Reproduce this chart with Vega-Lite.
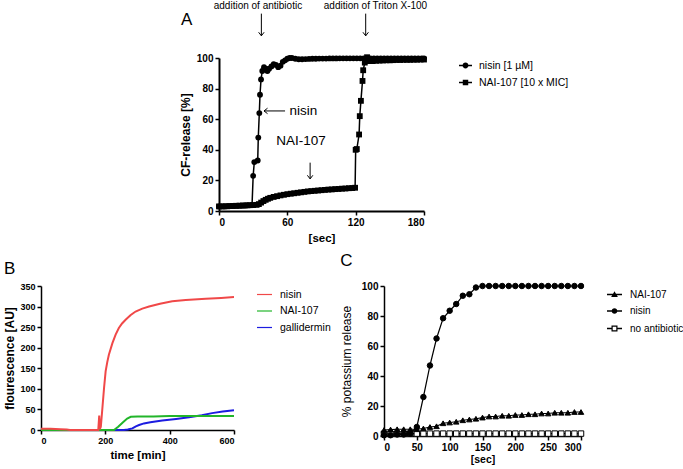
{
  "$schema": "https://vega.github.io/schema/vega-lite/v6.json",
  "padding": {"left": 3, "top": 0, "right": 0, "bottom": 0},
  "config": {
    "font": "Liberation Sans",
    "view": {"stroke": null},
    "axis": {"domainColor": "black", "domainWidth": 1.5, "tickColor": "black", "tickWidth": 1.5, "tickSize": 4, "labelColor": "black", "labelFont": "Liberation Sans", "labelFontWeight": "bold", "labelFontSize": 10, "titleFont": "Liberation Sans", "titleFontWeight": "bold", "titleFontSize": 12, "titleColor": "black", "grid": false, "labelPadding": 2},
    "legend": {"labelFont": "Liberation Sans", "labelColor": "black", "labelFontSize": 10.5, "padding": 0},
    "title": {"font": "Liberation Sans", "fontWeight": "normal", "fontSize": 17, "color": "black", "anchor": "start"}
  },
  "resolve": {"scale": {"shape": "independent", "color": "independent", "fill": "independent", "x": "independent", "y": "independent"}, "legend": {"shape": "independent", "color": "independent"}},
  "datasets": {
    "A": [
      {"s":"nisin [1 µM]","t":0,"v":3},{"s":"nisin [1 µM]","t":3,"v":3},{"s":"nisin [1 µM]","t":6,"v":3},{"s":"nisin [1 µM]","t":9,"v":3.1},{"s":"nisin [1 µM]","t":12,"v":3.2},{"s":"nisin [1 µM]","t":15,"v":3.3},{"s":"nisin [1 µM]","t":18,"v":3.4},{"s":"nisin [1 µM]","t":21,"v":3.5},{"s":"nisin [1 µM]","t":24,"v":3.6},{"s":"nisin [1 µM]","t":27,"v":3.7},{"s":"nisin [1 µM]","t":29,"v":3.8},
      {"s":"nisin [1 µM]","t":30,"v":23},{"s":"nisin [1 µM]","t":31,"v":32},{"s":"nisin [1 µM]","t":34,"v":33},{"s":"nisin [1 µM]","t":34.5,"v":48},{"s":"nisin [1 µM]","t":35.4,"v":64},{"s":"nisin [1 µM]","t":36,"v":76},{"s":"nisin [1 µM]","t":36.9,"v":86},{"s":"nisin [1 µM]","t":38,"v":91.5},{"s":"nisin [1 µM]","t":39.5,"v":94},{"s":"nisin [1 µM]","t":41,"v":93},{"s":"nisin [1 µM]","t":42.5,"v":91.5},{"s":"nisin [1 µM]","t":44,"v":93},{"s":"nisin [1 µM]","t":46,"v":94.5},{"s":"nisin [1 µM]","t":48,"v":96},{"s":"nisin [1 µM]","t":50,"v":95.5},{"s":"nisin [1 µM]","t":52,"v":94},{"s":"nisin [1 µM]","t":54,"v":95},{"s":"nisin [1 µM]","t":56,"v":97.5},{"s":"nisin [1 µM]","t":58,"v":98.5},{"s":"nisin [1 µM]","t":60,"v":99.5},{"s":"nisin [1 µM]","t":62,"v":100},{"s":"nisin [1 µM]","t":64,"v":100},{"s":"nisin [1 µM]","t":67,"v":99.5},{"s":"nisin [1 µM]","t":70,"v":99.2},{"s":"nisin [1 µM]","t":73,"v":99.2},{"s":"nisin [1 µM]","t":76,"v":99.3},{"s":"nisin [1 µM]","t":79,"v":99.4},{"s":"nisin [1 µM]","t":82,"v":99.5},{"s":"nisin [1 µM]","t":85,"v":99.5},{"s":"nisin [1 µM]","t":88,"v":99.6},{"s":"nisin [1 µM]","t":91,"v":99.6},{"s":"nisin [1 µM]","t":94,"v":99.6},{"s":"nisin [1 µM]","t":97,"v":99.7},{"s":"nisin [1 µM]","t":100,"v":99.7},{"s":"nisin [1 µM]","t":103,"v":99.7},{"s":"nisin [1 µM]","t":106,"v":99.8},{"s":"nisin [1 µM]","t":109,"v":99.8},{"s":"nisin [1 µM]","t":112,"v":99.8},{"s":"nisin [1 µM]","t":115,"v":99.8},{"s":"nisin [1 µM]","t":118,"v":99.8},{"s":"nisin [1 µM]","t":121,"v":99.8},{"s":"nisin [1 µM]","t":124,"v":99.8},{"s":"nisin [1 µM]","t":127,"v":99.8},{"s":"nisin [1 µM]","t":130,"v":99.8},{"s":"nisin [1 µM]","t":133,"v":99.8},{"s":"nisin [1 µM]","t":136,"v":99.8},{"s":"nisin [1 µM]","t":139,"v":99.8},{"s":"nisin [1 µM]","t":142,"v":99.8},{"s":"nisin [1 µM]","t":145,"v":99.8},{"s":"nisin [1 µM]","t":148,"v":99.8},{"s":"nisin [1 µM]","t":151,"v":99.8},{"s":"nisin [1 µM]","t":154,"v":99.8},{"s":"nisin [1 µM]","t":157,"v":99.8},{"s":"nisin [1 µM]","t":160,"v":99.8},{"s":"nisin [1 µM]","t":163,"v":99.8},{"s":"nisin [1 µM]","t":166,"v":99.8},{"s":"nisin [1 µM]","t":169,"v":99.8},{"s":"nisin [1 µM]","t":172,"v":99.8},{"s":"nisin [1 µM]","t":175,"v":99.8},{"s":"nisin [1 µM]","t":178,"v":99.8},{"s":"nisin [1 µM]","t":180,"v":99.8},
      {"s":"NAI-107 [10 x MIC]","t":0,"v":3},{"s":"NAI-107 [10 x MIC]","t":3,"v":3},{"s":"NAI-107 [10 x MIC]","t":6,"v":3.1},{"s":"NAI-107 [10 x MIC]","t":9,"v":3.2},{"s":"NAI-107 [10 x MIC]","t":12,"v":3.3},{"s":"NAI-107 [10 x MIC]","t":15,"v":3.4},{"s":"NAI-107 [10 x MIC]","t":18,"v":3.5},{"s":"NAI-107 [10 x MIC]","t":21,"v":3.6},{"s":"NAI-107 [10 x MIC]","t":24,"v":3.7},{"s":"NAI-107 [10 x MIC]","t":27,"v":3.8},{"s":"NAI-107 [10 x MIC]","t":30,"v":3.9},{"s":"NAI-107 [10 x MIC]","t":33,"v":4},{"s":"NAI-107 [10 x MIC]","t":35,"v":4.5},{"s":"NAI-107 [10 x MIC]","t":37,"v":5.5},{"s":"NAI-107 [10 x MIC]","t":39,"v":6.5},{"s":"NAI-107 [10 x MIC]","t":41,"v":7.3},{"s":"NAI-107 [10 x MIC]","t":43,"v":8},{"s":"NAI-107 [10 x MIC]","t":45,"v":8.6},{"s":"NAI-107 [10 x MIC]","t":48,"v":9.2},{"s":"NAI-107 [10 x MIC]","t":51,"v":9.7},{"s":"NAI-107 [10 x MIC]","t":54,"v":10.2},{"s":"NAI-107 [10 x MIC]","t":57,"v":10.6},{"s":"NAI-107 [10 x MIC]","t":60,"v":11},{"s":"NAI-107 [10 x MIC]","t":63,"v":11.3},{"s":"NAI-107 [10 x MIC]","t":66,"v":11.6},{"s":"NAI-107 [10 x MIC]","t":69,"v":11.9},{"s":"NAI-107 [10 x MIC]","t":72,"v":12.2},{"s":"NAI-107 [10 x MIC]","t":75,"v":12.5},{"s":"NAI-107 [10 x MIC]","t":78,"v":12.8},{"s":"NAI-107 [10 x MIC]","t":81,"v":13},{"s":"NAI-107 [10 x MIC]","t":84,"v":13.2},{"s":"NAI-107 [10 x MIC]","t":87,"v":13.4},{"s":"NAI-107 [10 x MIC]","t":90,"v":13.6},{"s":"NAI-107 [10 x MIC]","t":93,"v":13.8},{"s":"NAI-107 [10 x MIC]","t":96,"v":14},{"s":"NAI-107 [10 x MIC]","t":99,"v":14.1},{"s":"NAI-107 [10 x MIC]","t":102,"v":14.3},{"s":"NAI-107 [10 x MIC]","t":105,"v":14.4},{"s":"NAI-107 [10 x MIC]","t":108,"v":14.6},{"s":"NAI-107 [10 x MIC]","t":111,"v":14.7},{"s":"NAI-107 [10 x MIC]","t":114,"v":14.9},{"s":"NAI-107 [10 x MIC]","t":117,"v":15},{"s":"NAI-107 [10 x MIC]","t":119.5,"v":15.2},
      {"s":"NAI-107 [10 x MIC]","t":120,"v":40},{"s":"NAI-107 [10 x MIC]","t":121,"v":40.5},{"s":"NAI-107 [10 x MIC]","t":123,"v":50},{"s":"NAI-107 [10 x MIC]","t":123.6,"v":62},{"s":"NAI-107 [10 x MIC]","t":124.6,"v":72},{"s":"NAI-107 [10 x MIC]","t":126,"v":85},{"s":"NAI-107 [10 x MIC]","t":126.6,"v":92},{"s":"NAI-107 [10 x MIC]","t":128,"v":97},{"s":"NAI-107 [10 x MIC]","t":130,"v":100.5},{"s":"NAI-107 [10 x MIC]","t":132,"v":98},{"s":"NAI-107 [10 x MIC]","t":135,"v":98},{"s":"NAI-107 [10 x MIC]","t":138,"v":98.2},{"s":"NAI-107 [10 x MIC]","t":141,"v":98.3},{"s":"NAI-107 [10 x MIC]","t":144,"v":98.4},{"s":"NAI-107 [10 x MIC]","t":147,"v":98.5},{"s":"NAI-107 [10 x MIC]","t":150,"v":98.5},{"s":"NAI-107 [10 x MIC]","t":153,"v":98.6},{"s":"NAI-107 [10 x MIC]","t":156,"v":98.7},{"s":"NAI-107 [10 x MIC]","t":159,"v":98.7},{"s":"NAI-107 [10 x MIC]","t":162,"v":98.8},{"s":"NAI-107 [10 x MIC]","t":165,"v":98.8},{"s":"NAI-107 [10 x MIC]","t":168,"v":98.8},{"s":"NAI-107 [10 x MIC]","t":171,"v":98.9},{"s":"NAI-107 [10 x MIC]","t":174,"v":98.9},{"s":"NAI-107 [10 x MIC]","t":177,"v":99},{"s":"NAI-107 [10 x MIC]","t":180,"v":99}
    ],
    "Anote_small": [
      {"t": 34.2, "v": 134.3, "label": "addition of antibiotic"},
      {"t": 137.4, "v": 134.3, "label": "addition of Triton X-100"}
    ],
    "Anote_big": [
      {"t": 62, "v": 65.4, "label": "nisin"},
      {"t": 50.3, "v": 45.8, "label": "NAI-107"}
    ],
    "Aletter": [{"t": -33.4, "v": 124.8, "label": "A"}],
    "Aarrows": [
      {"t": 37.2, "v": 129, "t2": 37.2, "v2": 114.5},
      {"t": 128.8, "v": 129, "t2": 128.8, "v2": 114.5},
      {"t": 80, "v": 31.6, "t2": 80, "v2": 21},
      {"t": 58, "v": 65.4, "t2": 39.5, "v2": 65.4}
    ],
    "Aheads_down": [
      {"t": 37.2, "v": 114.5},
      {"t": 128.8, "v": 114.5},
      {"t": 80, "v": 21}
    ],
    "Aheads_left": [
      {"t": 39.5, "v": 65.4}
    ],
    "B": [
      {"s":"gallidermin","t":0,"v":0},{"s":"gallidermin","t":100,"v":0},{"s":"gallidermin","t":200,"v":0},{"s":"gallidermin","t":258,"v":0},{"s":"gallidermin","t":270,"v":1},{"s":"gallidermin","t":284,"v":4},{"s":"gallidermin","t":295,"v":9},{"s":"gallidermin","t":305,"v":12},{"s":"gallidermin","t":320,"v":16},{"s":"gallidermin","t":340,"v":19},{"s":"gallidermin","t":377,"v":23},{"s":"gallidermin","t":420,"v":27},{"s":"gallidermin","t":460,"v":31},{"s":"gallidermin","t":500,"v":36},{"s":"gallidermin","t":532,"v":41},{"s":"gallidermin","t":565,"v":45},{"s":"gallidermin","t":600,"v":48},
      {"s":"NAI-107","t":0,"v":0},{"s":"NAI-107","t":100,"v":0},{"s":"NAI-107","t":200,"v":0},{"s":"NAI-107","t":227,"v":0},{"s":"NAI-107","t":240,"v":8},{"s":"NAI-107","t":255,"v":19},{"s":"NAI-107","t":268,"v":28},{"s":"NAI-107","t":279,"v":32},{"s":"NAI-107","t":300,"v":33},{"s":"NAI-107","t":350,"v":33},{"s":"NAI-107","t":400,"v":34},{"s":"NAI-107","t":450,"v":34},{"s":"NAI-107","t":500,"v":34},{"s":"NAI-107","t":550,"v":34},{"s":"NAI-107","t":600,"v":34},
      {"s":"nisin","t":0,"v":3},{"s":"nisin","t":30,"v":3},{"s":"nisin","t":60,"v":2},{"s":"nisin","t":80,"v":1},{"s":"nisin","t":90,"v":0},{"s":"nisin","t":150,"v":0},{"s":"nisin","t":178,"v":0},{"s":"nisin","t":181,"v":35},{"s":"nisin","t":183,"v":2},{"s":"nisin","t":186,"v":8},{"s":"nisin","t":190,"v":45},{"s":"nisin","t":196,"v":102},{"s":"nisin","t":201,"v":143},{"s":"nisin","t":206,"v":165},{"s":"nisin","t":211,"v":183},{"s":"nisin","t":222,"v":211},{"s":"nisin","t":232,"v":232},{"s":"nisin","t":242,"v":248},{"s":"nisin","t":252,"v":259},{"s":"nisin","t":263,"v":268},{"s":"nisin","t":278,"v":279},{"s":"nisin","t":294,"v":288},{"s":"nisin","t":315,"v":295},{"s":"nisin","t":336,"v":300},{"s":"nisin","t":370,"v":307},{"s":"nisin","t":408,"v":313},{"s":"nisin","t":450,"v":316},{"s":"nisin","t":512,"v":319},{"s":"nisin","t":560,"v":321},{"s":"nisin","t":600,"v":323}
    ],
    "C": [
      {"s":"no antibiotic","t":0,"v":1.5},{"s":"no antibiotic","t":10,"v":1.5},{"s":"no antibiotic","t":20,"v":1.5},{"s":"no antibiotic","t":30,"v":1.5},{"s":"no antibiotic","t":40,"v":1.6},{"s":"no antibiotic","t":50,"v":1.6},{"s":"no antibiotic","t":60,"v":1.6},{"s":"no antibiotic","t":70,"v":1.6},{"s":"no antibiotic","t":80,"v":1.6},{"s":"no antibiotic","t":90,"v":1.6},{"s":"no antibiotic","t":100,"v":1.6},{"s":"no antibiotic","t":110,"v":1.6},{"s":"no antibiotic","t":120,"v":1.6},{"s":"no antibiotic","t":130,"v":1.6},{"s":"no antibiotic","t":140,"v":1.6},{"s":"no antibiotic","t":150,"v":1.6},{"s":"no antibiotic","t":160,"v":1.6},{"s":"no antibiotic","t":170,"v":1.6},{"s":"no antibiotic","t":180,"v":1.6},{"s":"no antibiotic","t":190,"v":1.6},{"s":"no antibiotic","t":200,"v":1.6},{"s":"no antibiotic","t":210,"v":1.6},{"s":"no antibiotic","t":220,"v":1.6},{"s":"no antibiotic","t":230,"v":1.6},{"s":"no antibiotic","t":240,"v":1.6},{"s":"no antibiotic","t":250,"v":1.6},{"s":"no antibiotic","t":260,"v":1.6},{"s":"no antibiotic","t":270,"v":1.6},{"s":"no antibiotic","t":280,"v":1.6},{"s":"no antibiotic","t":290,"v":1.6},{"s":"no antibiotic","t":300,"v":1.6},
      {"s":"NAI-107","t":0,"v":4},{"s":"NAI-107","t":10,"v":4.3},{"s":"NAI-107","t":20,"v":4.5},{"s":"NAI-107","t":30,"v":4.5},{"s":"NAI-107","t":40,"v":4.5},{"s":"NAI-107","t":50,"v":4.5},{"s":"NAI-107","t":60,"v":5},{"s":"NAI-107","t":70,"v":6},{"s":"NAI-107","t":80,"v":6.5},{"s":"NAI-107","t":90,"v":8.5},{"s":"NAI-107","t":100,"v":9},{"s":"NAI-107","t":110,"v":9.5},{"s":"NAI-107","t":120,"v":10.5},{"s":"NAI-107","t":130,"v":11},{"s":"NAI-107","t":140,"v":11.5},{"s":"NAI-107","t":150,"v":12.3},{"s":"NAI-107","t":160,"v":13},{"s":"NAI-107","t":170,"v":13},{"s":"NAI-107","t":180,"v":13.5},{"s":"NAI-107","t":190,"v":13.5},{"s":"NAI-107","t":200,"v":14},{"s":"NAI-107","t":210,"v":14},{"s":"NAI-107","t":220,"v":14.5},{"s":"NAI-107","t":230,"v":14.5},{"s":"NAI-107","t":240,"v":15},{"s":"NAI-107","t":250,"v":15},{"s":"NAI-107","t":260,"v":15.5},{"s":"NAI-107","t":270,"v":15.5},{"s":"NAI-107","t":280,"v":15.5},{"s":"NAI-107","t":290,"v":16},{"s":"NAI-107","t":300,"v":16},
      {"s":"nisin","t":0,"v":0.5},{"s":"nisin","t":10,"v":0.5},{"s":"nisin","t":20,"v":1},{"s":"nisin","t":30,"v":1},{"s":"nisin","t":40,"v":1.5},{"s":"nisin","t":50,"v":6},{"s":"nisin","t":60,"v":26},{"s":"nisin","t":70,"v":47},{"s":"nisin","t":80,"v":65},{"s":"nisin","t":90,"v":78.5},{"s":"nisin","t":100,"v":83.5},{"s":"nisin","t":110,"v":88},{"s":"nisin","t":120,"v":93.5},{"s":"nisin","t":130,"v":94.5},{"s":"nisin","t":140,"v":99},{"s":"nisin","t":150,"v":100},{"s":"nisin","t":160,"v":100},{"s":"nisin","t":170,"v":100},{"s":"nisin","t":180,"v":100},{"s":"nisin","t":190,"v":100},{"s":"nisin","t":200,"v":100},{"s":"nisin","t":210,"v":100},{"s":"nisin","t":220,"v":100},{"s":"nisin","t":230,"v":100},{"s":"nisin","t":240,"v":100},{"s":"nisin","t":250,"v":100},{"s":"nisin","t":260,"v":100},{"s":"nisin","t":270,"v":100},{"s":"nisin","t":280,"v":100},{"s":"nisin","t":290,"v":100},{"s":"nisin","t":300,"v":100}
    ]
  },
  "spacing": 8,
  "vconcat": [
    {
      "spacing": 0,
      "resolve": {"scale": {"shape": "independent", "x": "independent", "y": "independent"}, "legend": {"shape": "independent"}},
      "hconcat": [
        {"width": 138, "height": 10, "data": {"values": []}, "mark": "point"},
        {
          "width": 205, "height": 153,
          "encoding": {
            "x": {"field": "t", "type": "quantitative", "scale": {"domain": [0, 180], "nice": false, "zero": false}, "axis": {"values": [0, 60, 120, 180], "title": "[sec]", "titleFontSize": 11.5, "titlePadding": 5, "domainWidth": 2}},
            "y": {"field": "v", "type": "quantitative", "scale": {"domain": [0, 100], "nice": false, "zero": false}, "axis": {"values": [0, 20, 40, 60, 80, 100], "title": "CF-release [%]", "titlePadding": 4, "domainWidth": 2}}
          },
          "resolve": {"scale": {"shape": "independent"}, "legend": {"shape": "independent"}},
          "layer": [
            {"data": {"name": "A"}, "mark": {"type": "line", "color": "black", "strokeWidth": 1.5}, "encoding": {"detail": {"field": "s"}}},
            {"data": {"name": "A"}, "mark": {"type": "point", "filled": true, "color": "black", "size": 34, "opacity": 1},
             "encoding": {"shape": {"field": "s", "type": "nominal", "scale": {"domain": ["nisin [1 µM]", "NAI-107 [10 x MIC]"], "range": ["circle", "square"]}, "legend": null}}},
            {"data": {"name": "A"}, "mark": {"type": "point", "filled": false, "fill": "black", "stroke": "black", "strokeWidth": 1.5, "opacity": 0},
             "encoding": {"shape": {"field": "s", "type": "nominal", "scale": {"domain": ["nisin [1 µM]", "NAI-107 [10 x MIC]"], "range": ["M-1,-0.11H1V0.11H-1ZM0.45,0A0.45,0.45,0,1,1,-0.45,0A0.45,0.45,0,1,1,0.45,0Z", "M-1,-0.11H1V0.11H-1ZM-0.42,-0.42H0.42V0.42H-0.42Z"]},
               "legend": {"title": null, "orient": "right", "offset": 31, "symbolSize": 169, "symbolOpacity": 1, "symbolFillColor": "black", "symbolStrokeColor": "black", "symbolStrokeWidth": 1.5, "labelOffset": 6, "rowPadding": 3, "labelFontSize": 10.5}}}},
            {"data": {"name": "Aarrows"}, "mark": {"type": "rule", "color": "black", "strokeWidth": 1}, "encoding": {"x2": {"field": "t2"}, "y2": {"field": "v2"}}},
            {"data": {"name": "Aheads_down"}, "mark": {"type": "point", "shape": "M-1,-1.3L0,0L1,-1.3", "filled": false, "stroke": "black", "strokeWidth": 1, "size": 30, "opacity": 1}},
            {"data": {"name": "Aheads_left"}, "mark": {"type": "point", "shape": "M1.3,-1L0,0L1.3,1", "filled": false, "stroke": "black", "strokeWidth": 1, "size": 30, "opacity": 1}},
            {"data": {"name": "Anote_small"}, "mark": {"type": "text", "fontSize": 10, "align": "center", "baseline": "middle", "color": "black"}, "encoding": {"text": {"field": "label"}}},
            {"data": {"name": "Anote_big"}, "mark": {"type": "text", "fontSize": 13.5, "align": "left", "baseline": "middle", "color": "black"}, "encoding": {"text": {"field": "label"}}},
            {"data": {"name": "Aletter"}, "mark": {"type": "text", "fontSize": 17, "align": "left", "baseline": "middle", "color": "black"}, "encoding": {"text": {"field": "label"}}}
          ]
        }
      ]
    },
    {
      "spacing": 9,
      "resolve": {"scale": {"shape": "independent", "color": "independent", "fill": "independent", "x": "independent", "y": "independent"}, "legend": {"shape": "independent", "color": "independent"}},
      "hconcat": [
        {
          "width": 193, "height": 144,
          "title": {"text": "B", "offset": 4},
          "data": {"name": "B"},
          "mark": {"type": "line", "strokeWidth": 2},
          "encoding": {
            "x": {"field": "t", "type": "quantitative", "scale": {"domain": [0, 600], "nice": false}, "axis": {"values": [0, 200, 400, 600], "title": "time [min]", "titleFontSize": 11.5, "titlePadding": 4, "labelFontSize": 9}},
            "y": {"field": "v", "type": "quantitative", "scale": {"domain": [0, 350], "nice": false}, "axis": {"values": [0, 50, 100, 150, 200, 250, 300, 350], "title": "flourescence [AU]", "titlePadding": 3, "labelFontSize": 9}},
            "color": {"field": "s", "type": "nominal", "scale": {"domain": ["nisin", "NAI-107", "gallidermin"], "range": ["#f04848", "#22b52a", "#1c1ce0"]},
              "legend": {"title": null, "orient": "right", "offset": 18, "symbolType": "stroke", "symbolSize": 225, "symbolStrokeWidth": 1.2, "labelOffset": 7, "rowPadding": 2.5, "labelFontSize": 10.5}}
          }
        },
        {
          "width": 197, "height": 150,
          "title": {"text": "C", "offset": 11},
          "data": {"name": "C"},
          "encoding": {
            "x": {"field": "t", "type": "quantitative", "scale": {"domain": [0, 300], "nice": false}, "axis": {"values": [0, 50, 100, 150, 200, 250, 300], "title": "[sec]", "titleFontSize": 10.5, "titlePadding": 2}},
            "y": {"field": "v", "type": "quantitative", "scale": {"domain": [0, 100], "nice": false}, "axis": {"values": [0, 20, 40, 60, 80, 100], "title": "% potassium release", "titleFontWeight": "normal", "titlePadding": 8}}
          },
          "resolve": {"scale": {"shape": "independent"}, "legend": {"shape": "independent"}},
          "layer": [
            {"mark": {"type": "line", "color": "black", "strokeWidth": 1.2}, "encoding": {"detail": {"field": "s"}}},
            {"mark": {"type": "point", "stroke": "black", "strokeWidth": 1, "size": 30, "opacity": 1},
             "encoding": {
               "fill": {"condition": {"test": "datum.s === 'no antibiotic'", "value": "white"}, "value": "black"},
               "shape": {"field": "s", "type": "nominal", "scale": {"domain": ["NAI-107", "nisin", "no antibiotic"], "range": ["triangle-up", "circle", "square"]}, "legend": null}
             }},
            {"mark": {"type": "point", "filled": false, "fill": "black", "stroke": "black", "strokeWidth": 1.5, "opacity": 0},
             "encoding": {
               "shape": {"field": "s", "type": "nominal", "scale": {"domain": ["NAI-107", "nisin", "no antibiotic"], "range": ["M-1,-0.1H1V0.1H-1ZM0,-0.45L0.45,0.32L-0.45,0.32Z", "M-1,-0.1H1V0.1H-1ZM0.38,0A0.38,0.38,0,1,1,-0.38,0A0.38,0.38,0,1,1,0.38,0Z", "M-1,-0.1H-0.4V0.1H-1ZM0.4,-0.1H1V0.1H0.4ZM-0.4,-0.4H0.4V0.4H-0.4ZM-0.24,-0.24V0.24H0.24V-0.24Z"]},
                 "legend": {"title": null, "orient": "right", "offset": 22, "symbolSize": 225, "symbolOpacity": 1, "symbolFillColor": "black", "symbolStrokeColor": "black", "symbolStrokeWidth": 1.5, "labelOffset": 7, "rowPadding": 2.5, "labelFontSize": 10}}
             }}
          ]
        }
      ]
    }
  ]
}
